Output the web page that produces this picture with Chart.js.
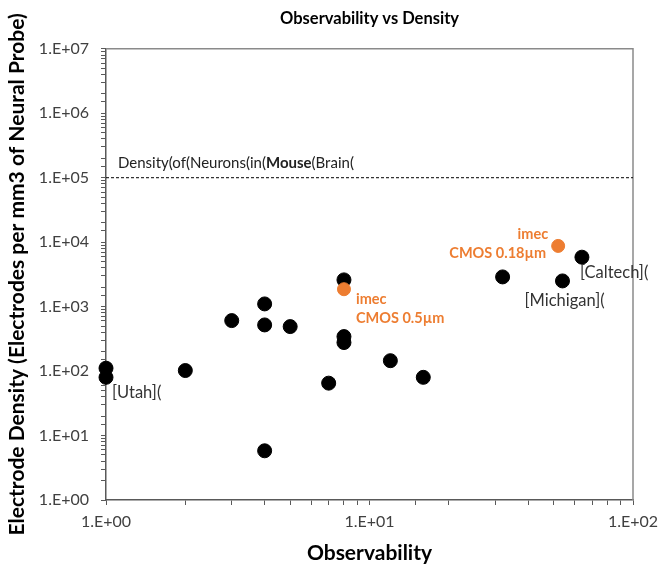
<!DOCTYPE html>
<html>
<head>
<meta charset="utf-8">
<script src="https://cdn.jsdelivr.net/npm/chart.js@4.4.1/dist/chart.umd.min.js"></script>
<style>
  html, body { margin: 0; padding: 0; background: #fff; }
  #wrap { width: 660px; height: 567px; }
</style>
</head>
<body>
<div id="wrap"><canvas id="myChart" width="660" height="567"></canvas></div>
<script>
// probes (black)
var probeObs = [1, 1, 2, 3, 4, 4, 4, 5, 7, 8, 8, 8, 12, 16, 32, 54, 64];
var probeDensity = [111, 80, 102, 607, 1102, 520, 5.8, 490, 65, 2600, 343, 277, 145, 80, 2890, 2505, 5850];

// imec probes (orange)
var imecObs = [8, 52];
var imecDensity = [1862, 8750];
var imecNames = ['CMOS 0.5\u00b5m', 'CMOS 0.18\u00b5m'];

// mouse brain neuron density reference line
var mouseDensity = 1e5;
var obsRange = [1, 100];

// named probes: label, x, y
var namedProbes = [
    ['[Utah](', 1, 80],
    ['[Michigan](', 54, 2505],
    ['[Caltech](', 64, 5850]
];

var ORANGE = '#ED7D31';
var FONT = 'Lato, "Open Sans", sans-serif';

function toPoints(xs, ys) {
    var pts = [];
    xs.map(function (x, i) {
        pts.push({x: x, y: ys[i]});
        return true;
    });
    return pts;
}

function sciLabel(v) {
    var e = Math.log10(v);
    if (Math.abs(e - Math.round(e)) > 1e-9) return '';
    var n = Math.round(e);
    return '1.E' + (n < 0 ? '-' : '+') + String(Math.abs(n)).padStart(2, '0');
}

var framePlugin = {
    id: 'frame',
    beforeDatasetsDraw: function (chart) {
        var a = chart.chartArea, ctx = chart.ctx;
        ctx.save();
        ctx.strokeStyle = '#8a8a8a';
        ctx.lineWidth = 1.5;
        ctx.beginPath();
        ctx.moveTo(a.left, a.top);
        ctx.lineTo(a.right, a.top);
        ctx.lineTo(a.right, a.bottom);
        ctx.stroke();
        ctx.restore();
    }
};

var notesPlugin = {
    id: 'notes',
    afterDatasetsDraw: function (chart) {
        var ctx = chart.ctx, xs = chart.scales.x, ys = chart.scales.y;
        ctx.save();
        ctx.textBaseline = 'middle';

        // named probes
        ctx.fillStyle = '#333';
        ctx.font = '16.5px ' + FONT;
        ctx.textAlign = 'left';
        var offs = [[6, 15], [-38, 20], [-2, 15]];
        namedProbes.forEach(function (p, i) {
            var px = xs.getPixelForValue(p[1]), py = ys.getPixelForValue(p[2]);
            ctx.fillText(p[0], px + offs[i][0], py + offs[i][1]);
        });

        // imec labels
        ctx.fillStyle = ORANGE;
        ctx.font = 'bold 14.5px ' + FONT;
        var px0 = xs.getPixelForValue(imecObs[0]), py0 = ys.getPixelForValue(imecDensity[0]);
        ctx.textAlign = 'left';
        ctx.fillText('imec', px0 + 12, py0 + 10);
        ctx.fillText(imecNames[0], px0 + 12, py0 + 29);
        var px1 = xs.getPixelForValue(imecObs[1]), py1 = ys.getPixelForValue(imecDensity[1]);
        ctx.textAlign = 'right';
        ctx.fillText('imec', px1 - 10, py1 - 12);
        ctx.fillText(imecNames[1], px1 - 12, py1 + 7);

        // mouse brain line label
        var ly = ys.getPixelForValue(mouseDensity) - 15;
        var lx = chart.chartArea.left + 12;
        ctx.textAlign = 'left';
        ctx.fillStyle = '#222';
        var parts = [['Density(of(Neurons(in(', ''], ['Mouse', 'bold '], ['(Brain(', '']];
        parts.forEach(function (p) {
            ctx.font = p[1] + '15px ' + FONT;
            ctx.fillText(p[0], lx, ly);
            lx += ctx.measureText(p[0]).width;
        });
        ctx.restore();
    }
};

var axisCommon = {
    type: 'logarithmic',
    grid: {
        display: true,
        drawOnChartArea: false,
        drawTicks: true,
        tickLength: 5,
        tickColor: '#595959',
        tickWidth: 1
    },
    border: { display: true, color: '#595959', width: 1.5 },
    ticks: {
        autoSkip: false,
        maxRotation: 0,
        color: '#404040',
        font: { family: FONT, size: 16 },
        callback: function (v) { return sciLabel(v); }
    }
};

new Chart(document.getElementById('myChart'), {
    type: 'scatter',
    data: {
        datasets: [
            {
                label: 'imec',
                data: toPoints(imecObs, imecDensity),
                backgroundColor: ORANGE,
                borderColor: ORANGE,
                pointRadius: 6.5,
                clip: false,
                order: 0
            },
            {
                label: 'probes',
                data: toPoints(probeObs, probeDensity),
                backgroundColor: '#000',
                borderColor: '#000',
                pointRadius: 7,
                clip: false,
                order: 1
            },
            {
                type: 'line',
                label: 'mouse brain',
                data: toPoints(obsRange, [mouseDensity, mouseDensity]),
                borderColor: '#000',
                borderWidth: 1,
                borderDash: [3, 2],
                pointRadius: 0,
                order: 2
            }
        ]
    },
    options: {
        responsive: false,
        animation: false,
        layout: { padding: { top: 0, right: 27, left: 0, bottom: 0 } },
        plugins: {
            legend: { display: false },
            tooltip: { enabled: false },
            title: {
                display: true,
                text: 'Observability vs Density',
                fullSize: false,
                color: '#000',
                font: { family: FONT, size: 16.5, weight: 'bold' },
                padding: { top: 9, bottom: 20 }
            }
        },
        scales: {
            x: Object.assign({}, axisCommon, {
                min: 1,
                max: 100,
                ticks: Object.assign({}, axisCommon.ticks, { padding: 7 }),
                title: {
                    display: true,
                    text: 'Observability',
                    color: '#000',
                    font: { family: FONT, size: 21, weight: 'bold' },
                    padding: { top: 4, bottom: 1 }
                },
                afterFit: function (s) {
                    s.height = 67;
                    s.paddingLeft = 0;
                    s.paddingRight = 0;
                }
            }),
            y: Object.assign({}, axisCommon, {
                min: 1,
                max: 1e7,
                ticks: Object.assign({}, axisCommon.ticks, { padding: 12 }),
                title: {
                    display: true,
                    text: 'Electrode Density (Electrodes per mm3 of Neural Probe)',
                    color: '#000',
                    font: { family: FONT, size: 21, weight: 'bold' },
                    padding: { top: 5, bottom: 0 }
                },
                afterFit: function (s) { s.width = 106; }
            })
        }
    },
    plugins: [framePlugin, notesPlugin]
});
</script>
</body>
</html>
